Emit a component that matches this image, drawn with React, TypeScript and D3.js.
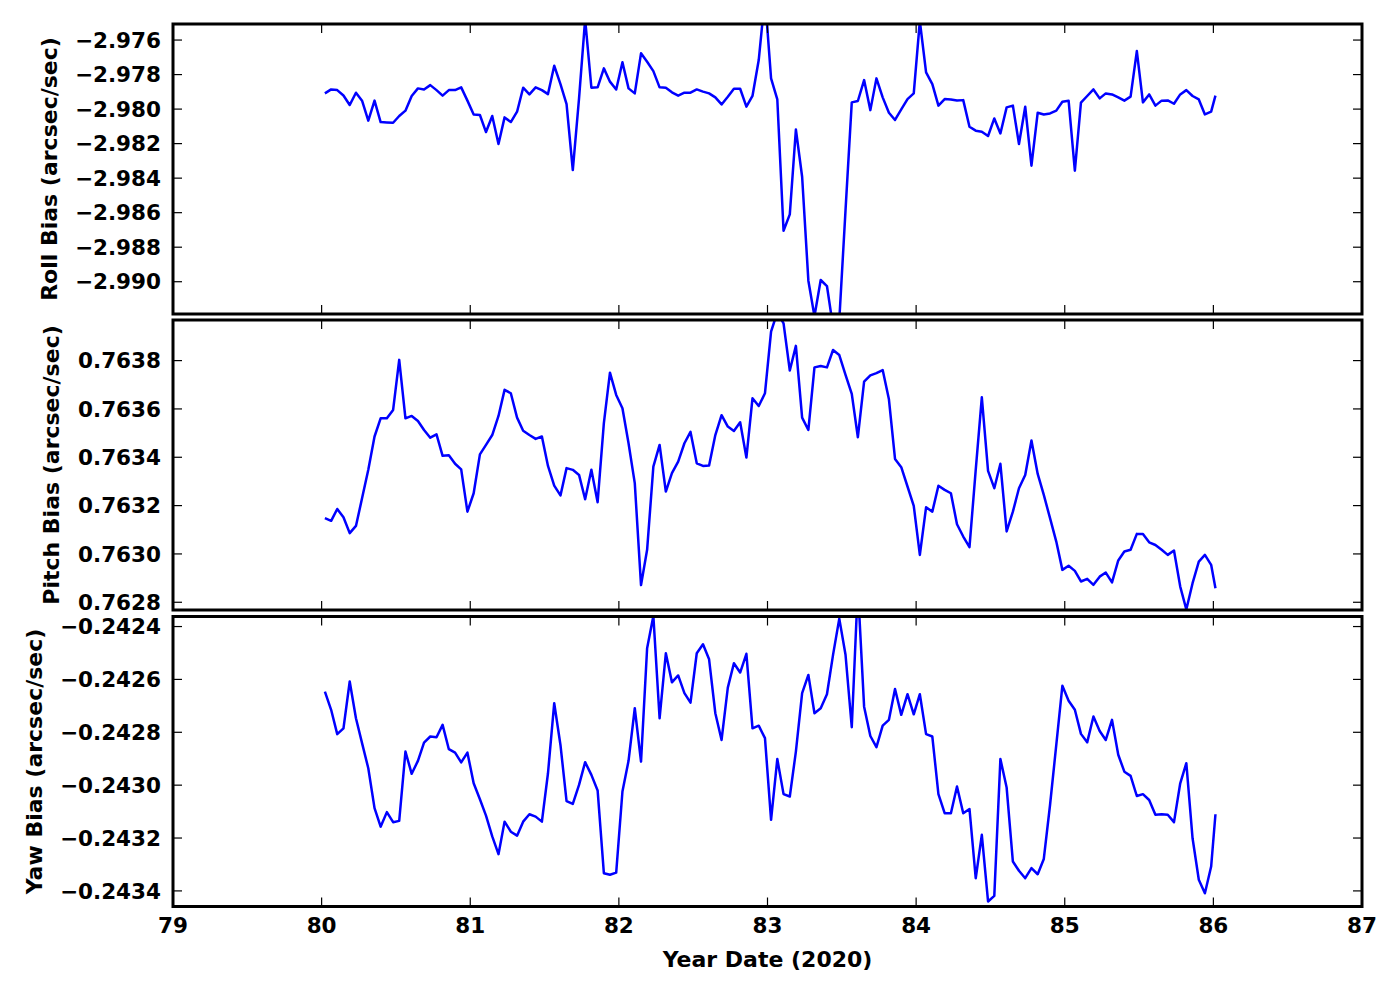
import React from "react";
import * as d3 from "d3";

// ---- data ----
const times = [
  80.022, 80.064, 80.105, 80.147, 80.189, 80.231, 80.272, 80.314, 80.356, 80.397,
  80.439, 80.481, 80.522, 80.564, 80.606, 80.648, 80.689, 80.731, 80.773, 80.814,
  80.856, 80.898, 80.939, 80.981, 81.023, 81.065, 81.106, 81.148, 81.190, 81.231,
  81.273, 81.315, 81.356, 81.398, 81.440, 81.482, 81.523, 81.565, 81.607, 81.648,
  81.690, 81.732, 81.773, 81.815, 81.857, 81.899, 81.940, 81.982, 82.024, 82.065,
  82.107, 82.149, 82.190, 82.232, 82.274, 82.316, 82.357, 82.399, 82.441, 82.482,
  82.524, 82.566, 82.607, 82.649, 82.691, 82.733, 82.774, 82.816, 82.858, 82.899,
  82.941, 82.983, 83.024, 83.066, 83.108, 83.150, 83.191, 83.233, 83.275, 83.316,
  83.358, 83.400, 83.441, 83.483, 83.525, 83.567, 83.608, 83.650, 83.692, 83.733,
  83.775, 83.817, 83.858, 83.900, 83.942, 83.984, 84.025, 84.067, 84.109, 84.150,
  84.192, 84.234, 84.275, 84.317, 84.359, 84.401, 84.442, 84.484, 84.526, 84.567,
  84.609, 84.651, 84.692, 84.734, 84.776, 84.818, 84.859, 84.901, 84.943, 84.984,
  85.026, 85.068, 85.109, 85.151, 85.193, 85.235, 85.276, 85.318, 85.360, 85.401,
  85.443, 85.485, 85.526, 85.568, 85.610, 85.652, 85.693, 85.735, 85.777, 85.818,
  85.860, 85.902, 85.943, 85.985, 86.014,
];

const rollBias = [
  -2.97909, -2.97886, -2.9789, -2.97921, -2.97976, -2.97905, -2.97951, -2.98067, -2.97951, -2.98075,
  -2.98077, -2.98079, -2.9804, -2.98009, -2.97924, -2.9788, -2.97886, -2.97861, -2.9789, -2.97922,
  -2.9789, -2.9789, -2.97874, -2.97951, -2.98031, -2.98034, -2.98133, -2.9804, -2.98202, -2.98048,
  -2.98075, -2.98015, -2.97876, -2.97915, -2.97874, -2.9789, -2.97913, -2.97749, -2.97855, -2.97971,
  -2.98353, -2.97938, -2.9748, -2.97876, -2.97874, -2.97764, -2.97841, -2.97886, -2.97729, -2.9788,
  -2.97909, -2.97677, -2.97726, -2.9778, -2.97874, -2.97876, -2.97903, -2.97922, -2.97905, -2.97905,
  -2.97886, -2.97899, -2.97909, -2.97932, -2.97973, -2.97928, -2.97882, -2.97882, -2.97986, -2.97924,
  -2.97716, -2.97349, -2.97822, -2.97944, -2.98705, -2.9861, -2.98118, -2.98392, -2.98994, -2.992,
  -2.9899, -2.99025, -2.99261, -2.99222, -2.98585, -2.97961, -2.97953, -2.97832, -2.98006, -2.97822,
  -2.97932, -2.98021, -2.98063, -2.98002, -2.97942, -2.97909, -2.9749, -2.97787, -2.97855, -2.9798,
  -2.97942, -2.97944, -2.9795, -2.97948, -2.98102, -2.98125, -2.98131, -2.98156, -2.98054, -2.98141,
  -2.9799, -2.9798, -2.98202, -2.97986, -2.98328, -2.98021, -2.98031, -2.98025, -2.98009, -2.97957,
  -2.97951, -2.98357, -2.97963, -2.97924, -2.97886, -2.97938, -2.97909, -2.97915, -2.97932, -2.97951,
  -2.97928, -2.97664, -2.97961, -2.97915, -2.9798, -2.97951, -2.9795, -2.97969, -2.97915, -2.9789,
  -2.97924, -2.97944, -2.98031, -2.98015, -2.97922,
];

const pitchBias = [
  0.763148, 0.763137, 0.763186, 0.763152, 0.763086, 0.763116, 0.76323, 0.763348, 0.763486, 0.763561,
  0.763561, 0.763596, 0.763803, 0.763561, 0.763571, 0.76355, 0.763513, 0.763481, 0.763495, 0.763406,
  0.763408, 0.763373, 0.76335, 0.763175, 0.763251, 0.763412, 0.763451, 0.763492, 0.763571, 0.763679,
  0.763665, 0.763564, 0.76351, 0.763492, 0.763476, 0.763486, 0.763364, 0.763283, 0.763242, 0.763355,
  0.763348, 0.763327, 0.763226, 0.763348, 0.763214, 0.763541, 0.76375, 0.763658, 0.763603, 0.763458,
  0.763293, 0.762871, 0.763017, 0.763361, 0.763451, 0.763258, 0.763334, 0.763382, 0.763458, 0.763505,
  0.763375, 0.763364, 0.763366, 0.763492, 0.763574, 0.763527, 0.763509, 0.763545, 0.763399, 0.763644,
  0.763612, 0.763665, 0.76392, 0.764, 0.763954, 0.763759, 0.763861, 0.763564, 0.763513, 0.763772,
  0.763778, 0.763772, 0.763844, 0.763823, 0.763741, 0.763662, 0.763483, 0.763713, 0.763739, 0.763748,
  0.763761, 0.76364, 0.763393, 0.763359, 0.763279, 0.763199, 0.762996, 0.763193, 0.763175, 0.763282,
  0.763265, 0.763251, 0.763123, 0.763072, 0.763028, 0.763348, 0.763648, 0.763344, 0.763272, 0.763373,
  0.763093, 0.763175, 0.763272, 0.763327, 0.763469, 0.763331, 0.763244, 0.763148, 0.763051, 0.762934,
  0.762951, 0.76293, 0.762886, 0.762897, 0.762872, 0.762906, 0.762923, 0.762882, 0.762973, 0.76301,
  0.763017, 0.763083, 0.763082, 0.763048, 0.763037, 0.763017, 0.762996, 0.763014, 0.762865, 0.76277,
  0.762879, 0.762968, 0.762996, 0.762955, 0.762858,
];

const yawBias = [
  -0.242646, -0.242715, -0.242807, -0.242785, -0.242608, -0.242747, -0.242841, -0.242936, -0.243087, -0.243157,
  -0.243102, -0.24314, -0.243135, -0.242873, -0.242957, -0.242908, -0.242839, -0.242816, -0.242819, -0.242772,
  -0.242864, -0.242877, -0.242914, -0.242877, -0.242993, -0.243053, -0.243115, -0.243194, -0.243261, -0.243138,
  -0.243176, -0.243191, -0.243138, -0.24311, -0.243119, -0.243138, -0.242955, -0.24269, -0.242848, -0.24306,
  -0.243071, -0.242999, -0.242913, -0.242961, -0.24302, -0.243333, -0.243339, -0.243331, -0.243024, -0.242908,
  -0.242709, -0.242911, -0.242482, -0.24236, -0.242747, -0.242501, -0.242611, -0.242585, -0.242652, -0.242688,
  -0.242501, -0.242467, -0.242524, -0.242728, -0.242829, -0.242631, -0.242539, -0.242574, -0.242503, -0.242785,
  -0.242775, -0.242822, -0.243131, -0.242901, -0.243034, -0.243043, -0.242873, -0.242652, -0.242583, -0.242728,
  -0.242709, -0.242656, -0.242507, -0.24237, -0.242507, -0.242781, -0.24225, -0.242703, -0.242814, -0.242856,
  -0.242775, -0.242753, -0.242636, -0.242734, -0.242656, -0.242732, -0.242656, -0.242807, -0.242816, -0.243034,
  -0.243106, -0.243106, -0.243005, -0.243106, -0.24309, -0.243352, -0.243188, -0.24344, -0.243419, -0.242901,
  -0.243009, -0.243289, -0.243324, -0.243352, -0.243314, -0.243337, -0.243279, -0.243075, -0.242848, -0.242624,
  -0.242681, -0.242715, -0.242806, -0.242838, -0.24274, -0.242795, -0.242829, -0.242753, -0.242885, -0.242949,
  -0.242965, -0.243041, -0.243034, -0.243056, -0.243112, -0.24311, -0.243112, -0.24314, -0.242993, -0.242917,
  -0.243201, -0.243358, -0.243409, -0.243308, -0.24311,
];

const xTicks = [79, 80, 81, 82, 83, 84, 85, 86, 87];
const rollTicks = [-2.99, -2.988, -2.986, -2.984, -2.982, -2.98, -2.978, -2.976];
const pitchTicks = [0.7628, 0.763, 0.7632, 0.7634, 0.7636, 0.7638];
const yawTicks = [-0.2434, -0.2432, -0.243, -0.2428, -0.2426, -0.2424];
const xDomain = [79, 87];
const rollDomain = [-2.99187, -2.97507];
const pitchDomain = [0.762768, 0.763968];
const yawDomain = [-0.243459, -0.242362];

const xLabel = "Year Date (2020)";

// ---- layout ----
const W = 1400;
const H = 1000;
const X0 = 173;
const X1 = 1362;
const FONT = "'DejaVu Sans', sans-serif";
const FS = 21.5;
const FS_LABEL = 22;
const TICK = 9;

type Panel = {
  key: string;
  top: number;
  bottom: number;
  domain: number[];
  ticks: number[];
  fmt: string;
  values: number[];
  label: string;
  labelX: number;
};

const panels: Panel[] = [
  { key: "roll", top: 24, bottom: 314, domain: rollDomain, ticks: rollTicks, fmt: ".3f", values: rollBias, label: "Roll Bias (arcsec/sec)", labelX: 49 },
  { key: "pitch", top: 320, bottom: 610, domain: pitchDomain, ticks: pitchTicks, fmt: ".4f", values: pitchBias, label: "Pitch Bias (arcsec/sec)", labelX: 51 },
  { key: "yaw", top: 616.5, bottom: 906.5, domain: yawDomain, ticks: yawTicks, fmt: ".4f", values: yawBias, label: "Yaw Bias (arcsec/sec)", labelX: 34 },
];

export default function App() {
  const x = d3.scaleLinear().domain(xDomain).range([X0, X1]);
  return (
    <svg
      width={W}
      height={H}
      viewBox={`0 0 ${W} ${H}`}
      style={{ position: "absolute", left: 0, top: 0, background: "#fff" }}
      fontFamily={FONT}
      fontWeight="bold"
    >
      <rect x={0} y={0} width={W} height={H} fill="#fff" />
      {panels.map((p, pi) => {
        const y = d3.scaleLinear().domain(p.domain).range([p.bottom, p.top]);
        const line = d3
          .line<number>()
          .x((_, i) => x(times[i]))
          .y((d) => y(d));
        const fmt = d3.format(p.fmt);
        const clipId = `clip-${p.key}`;
        const isLast = pi === panels.length - 1;
        return (
          <g key={p.key}>
            <defs>
              <clipPath id={clipId}>
                <rect x={X0} y={p.top} width={X1 - X0} height={p.bottom - p.top} />
              </clipPath>
            </defs>
            <path
              d={line(p.values) || ""}
              fill="none"
              stroke="#0000ff"
              strokeWidth={2.5}
              strokeLinejoin="round"
              clipPath={`url(#${clipId})`}
            />
            {p.ticks.map((t) => (
              <g key={`y${t}`}>
                <line x1={X0} x2={X0 + TICK} y1={y(t)} y2={y(t)} stroke="#000" strokeWidth={1.2} />
                <line x1={X1} x2={X1 - TICK} y1={y(t)} y2={y(t)} stroke="#000" strokeWidth={1.2} />
                <text x={X0 - 12} y={y(t)} dy="0.36em" textAnchor="end" fontSize={FS}>
                  {fmt(t)}
                </text>
              </g>
            ))}
            {xTicks.map((t) => (
              <g key={`x${t}`}>
                <line x1={x(t)} x2={x(t)} y1={p.top} y2={p.top + TICK} stroke="#000" strokeWidth={1.2} />
                <line x1={x(t)} x2={x(t)} y1={p.bottom} y2={p.bottom - TICK} stroke="#000" strokeWidth={1.2} />
                {isLast && (
                  <text x={x(t)} y={p.bottom + 26} textAnchor="middle" fontSize={FS}>
                    {String(t)}
                  </text>
                )}
              </g>
            ))}
            <rect
              x={X0}
              y={p.top}
              width={X1 - X0}
              height={p.bottom - p.top}
              fill="none"
              stroke="#000"
              strokeWidth={3}
            />
            <text
              transform={`translate(${p.labelX},${(p.top + p.bottom) / 2}) rotate(-90)`}
              dy="0.36em"
              textAnchor="middle"
              fontSize={FS_LABEL}
            >
              {p.label}
            </text>
          </g>
        );
      })}
      <text x={(X0 + X1) / 2} y={967} textAnchor="middle" fontSize={FS_LABEL}>
        {xLabel}
      </text>
    </svg>
  );
}
